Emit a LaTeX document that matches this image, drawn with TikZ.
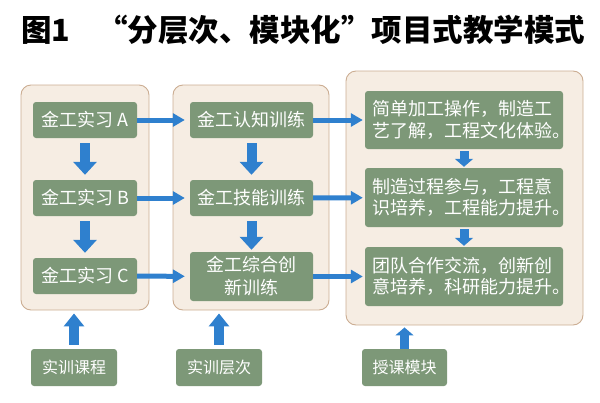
\documentclass[tikz,border=0pt]{standalone}
\usepackage{fontspec}
\setmainfont{Noto Sans CJK SC}
\usetikzlibrary{arrows.meta}
\definecolor{boxgreen}{HTML}{7D9878}
\definecolor{panelfill}{HTML}{F6EDE3}
\definecolor{panelline}{HTML}{CBAD92}
\definecolor{arrowblue}{HTML}{2F80CE}
\begin{document}
\begin{tikzpicture}[x=1pt,y=-1pt,
  panel/.style={draw=panelline,fill=panelfill,line width=0.9pt,rounded corners=10pt,inner sep=0pt},
  gbox/.style={fill=boxgreen,rounded corners=3pt,text=white,inner sep=0pt,align=center,font=\fontsize{18}{23}\selectfont},
  lbox/.style={gbox,font=\fontsize{16}{20}\selectfont},
  tbox/.style={gbox,text width=184pt,align=left,font=\fontsize{18}{21.5}\selectfont},
  varrow/.style={draw=arrowblue,line width=10pt,-{Triangle[length=13pt,width=23pt]}},
  barrow/.style={draw=arrowblue,line width=10pt,-{Triangle[length=13pt,width=20pt]}},
  sarrow/.style={draw=arrowblue,line width=9pt,-{Triangle[length=8pt,width=18pt]}},
  harrow/.style={draw=arrowblue,line width=5pt,-{Triangle[length=12pt,width=13pt]}}]
\useasboundingbox (0,0) rectangle (600,402);
% title
\node[anchor=west,inner sep=0pt,font=\fontsize{30.5}{34}\selectfont\bfseries] (title) at (21,30)
  {图1\hspace{27pt}“分层次、模块化”项目式教学模式};
% panels
\node[panel,minimum width=128pt,minimum height=225pt] (p1) at (85,197.5) {};
\node[panel,minimum width=156pt,minimum height=225pt] (p2) at (251,197.5) {};
\node[panel,minimum width=237pt,minimum height=254pt] (p3) at (464.5,198) {};
% column 1
\node[gbox,minimum width=104pt,minimum height=36pt] (a) at (85,120) {金工实习 A};
\node[gbox,minimum width=104pt,minimum height=36pt] (b) at (85,198) {金工实习 B};
\node[gbox,minimum width=104pt,minimum height=36pt] (c) at (85,276) {金工实习 C};
% column 2
\node[gbox,minimum width=123pt,minimum height=36pt] (d) at (251.5,120) {金工认知训练};
\node[gbox,minimum width=123pt,minimum height=36pt] (e) at (251.5,198) {金工技能训练};
\node[gbox,minimum width=123pt,minimum height=49pt] (f) at (251.5,276.5) {金工综合创\\新训练};
% column 3
\node[tbox,minimum width=198pt,minimum height=58pt] (g) at (464,120) {简单加工操作，制造工\\艺了解，工程文化体验。};
\node[tbox,minimum width=198pt,minimum height=59pt] (h) at (464,197.5) {制造过程参与，工程意\\识培养，工程能力提升。};
\node[tbox,minimum width=198pt,minimum height=59pt] (i) at (464,276.5) {团队合作交流，创新创\\意培养，科研能力提升。};
% bottom labels
\node[lbox,minimum width=86pt,minimum height=37pt] (b1) at (74,367.5) {实训课程};
\node[lbox,minimum width=86pt,minimum height=37pt] (b2) at (219,367.5) {实训层次};
\node[lbox,minimum width=85pt,minimum height=37pt] (b3) at (404.5,367.5) {授课模块};
% vertical arrows
\draw[varrow,shorten <=5pt,shorten >=5pt] (a) -- (b);
\draw[varrow,shorten <=5pt,shorten >=5pt] (b) -- (c);
\draw[varrow,shorten <=5pt,shorten >=5pt] (d) -- (e);
\draw[varrow,shorten <=5pt,shorten >=2pt] (e) -- (f);
\draw[sarrow,shorten <=2pt,shorten >=1pt] (g) -- (h);
\draw[sarrow,shorten <=2pt,shorten >=1pt] (h) -- (i);
% horizontal arrows
\draw[harrow,shorten >=5pt] (a) -- (d);
\draw[harrow,shorten >=5pt] (b) -- (e);
\draw[harrow,shorten >=5pt] (c) -- (f);
\draw[harrow,shorten >=2pt] (d) -- (g);
\draw[harrow,shorten >=2pt] (e) -- (h);
\draw[harrow,shorten >=2pt] (f) -- (i);
% bottom arrows
\draw[barrow,shorten <=4pt,shorten >=3pt] (b1.north) -- (b1.north |- p1.south);
\draw[barrow,shorten <=4pt,shorten >=3pt] (b2.north) -- (b2.north |- p2.south);
\draw[sarrow,shorten >=2pt] (b3.north) -- (b3.north |- p3.south);
\end{tikzpicture}
\end{document}
